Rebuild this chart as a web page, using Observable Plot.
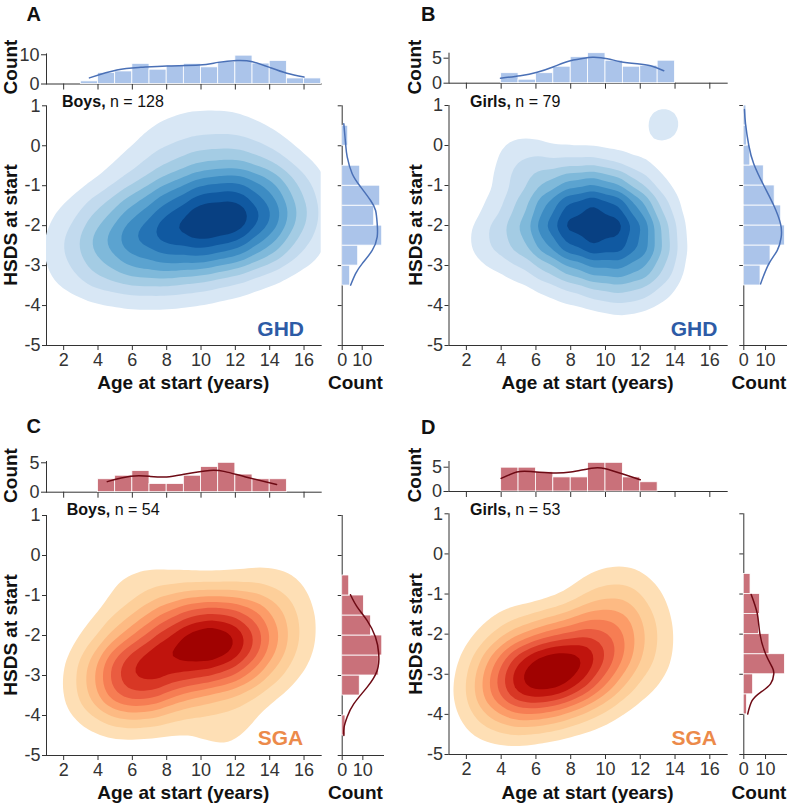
<!DOCTYPE html>
<html><head><meta charset="utf-8">
<script src="https://cdn.jsdelivr.net/npm/d3@7"></script>
<script src="https://cdn.jsdelivr.net/npm/@observablehq/plot@0.6"></script>
<style>
body{margin:0;background:#fff;}
#root{position:relative;width:787px;height:805px;overflow:hidden;background:#fff;}
#root svg{position:absolute;left:0;top:0;background:transparent !important;}
</style></head><body><div id="root"></div>
<script>
// ---------- shared ticks ----------
const ageTicks = [2,4,6,8,10,12,14,16];
const hsdsTicks = [1,0,-1,-2,-3,-4,-5];
const countTicksTopA = [0,10];
const countTicksTop = [0,5];
const countTicksRight = [0,10];
// contour levels as fractions of the peak density (9 filled bands)
const levelFractions = [0.1,0.2,0.3,0.4,0.5,0.6,0.7,0.8,0.9];

// ---------- Panel A : GHD boys ----------
const aAgeBinStart = [3,4,5,6,7,8,9,10,11,12,13,14,15,16];
const aAgeBinCount = [0.9,3.8,4.3,6.9,4.9,6.3,6.9,5.7,7.6,9.7,7.0,7.9,1.9,1.9];
const aAgeKdeX = [3.5,5.1,6.5,8.0,9.9,11.0,12.1,13.0,14.0,15.0,16.0];
const aAgeKdeY = [2.1,4.8,5.7,6.2,6.5,7.4,8.0,7.6,5.7,3.7,2.4];
const aHsdsBinLow = [-3.5,-3,-2.5,-2,-1.5,-1,-0.5,0];
const aHsdsBinCount = [4,8,20,16,19,9,0,3];
const aHsdsKdeY = [0.55,0.05,-0.28,-0.7,-1.03,-1.37,-1.62,-1.95,-2.28,-2.62,-2.95,-3.2,-3.49];
const aHsdsKdeX = [0.8,1.7,2.5,5,9.2,14.2,16.7,17.5,17.5,15,10,6.7,4.2];
const aPtAge    = [3,5,7,9,11,13,15, 3,5,7,9,11,13,15, 8,11,14, 9,12, 8,10.5,13, 6, 1.8,16.5, 8,11];
const aPtHsds   = [-2.15,-1.95,-1.8,-1.6,-1.45,-1.35,-1.3, -2.95,-2.85,-2.7,-2.5,-2.3,-2.2,-2.15, -0.7,-0.6,-0.7, -0.05,0.05, 0.35,0.45,0.35, -0.4, -2.7,-1.6, -3.5,-3.4];
const aPtWeight = [0.8,2,2.5,3,3.5,3,1.5, 0.8,2,2.5,3,3.5,3,1.5, 0.7,0.8,0.6, 0.55,0.55, 0.5,0.4,0.5, 0.45, 0.4,0.35, 0.35,0.35];

// ---------- Panel B : GHD girls ----------
const bAgeBinStart = [4,5,6,7,8,9,10,11,12,13];
const bAgeBinCount = [2.0,0.7,2.0,3.3,5.2,6.0,4.5,3.3,3.5,4.5];
const bAgeKdeX = [3.96,5.1,6.07,7.02,7.98,8.94,9.33,10.1,10.86,11.82,12.59,13.35];
const bAgeKdeY = [1.0,1.5,2.2,3.3,4.5,5.1,5.2,4.9,4.3,3.9,3.5,2.5];
const bHsdsBinLow = [-3.5,-3,-2.5,-2,-1.5,-1,-0.5,0,0.5];
const bHsdsBinCount = [7.7,12.3,18.9,17.2,14.2,9.2,3,1.5,1.2];
const bHsdsKdeY = [0.9,0.54,0,-0.46,-1.0,-1.5,-1.96,-2.29,-2.62,-2.96,-3.46];
const bHsdsKdeX = [0.3,0.8,2.3,4.6,9.2,13.8,16.9,17.2,15.4,11.5,7.7];
const bPtAge = [
  4,5.5,7,8.5,10,11.5,13,
  4,5.5,7,8.5,10,11.5,13,
  4,5.5,7,8.5,10,11.5,13,
  4,5.5,7,8.5,10,11.5,13,
  4,5.5,7,8.5,10,11.5,13,
  4,5.5,7,8.5,10,11.5,13,
  2.7,5,11,13.35];
const bPtHsds = [
  -0.5,-0.5,-0.5,-0.5,-0.5,-0.5,-0.5,
  -1.1,-1.1,-1.1,-1.1,-1.1,-1.1,-1.1,
  -1.7,-1.7,-1.7,-1.7,-1.7,-1.7,-1.7,
  -2.3,-2.3,-2.3,-2.3,-2.3,-2.3,-2.3,
  -2.9,-2.9,-2.9,-2.9,-2.9,-2.9,-2.9,
  -3.5,-3.5,-3.5,-3.5,-3.5,-3.5,-3.5,
  -2.4,-0.05,-4.0,0.55];
const bPtWeight = [
  0.1,0.35,0.2,0.25,0.2,0.05,0.03,
  0.1,0.25,0.45,0.7,0.7,0.45,0.15,
  0.2,0.35,0.85,1.0,1.0,0.85,0.35,
  0.35,0.45,0.85,1.0,1.0,0.85,0.55,
  0.15,0.2,0.4,0.6,0.7,0.65,0.5,
  0,0.05,0.15,0.25,0.35,0.35,0.25,
  0.22,0.2,0.15,0.5];

// ---------- Panel C : SGA boys ----------
const cAgeBinStart = [4,5,6,7,8,9,10,11,12,13,14];
const cAgeBinCount = [2.2,2.8,3.6,1.4,1.4,2.8,4.3,5.0,3.0,2.2,2.2];
const cAgeKdeX = [4.54,5.9,7.0,8.0,9.1,10.5,11.4,12.6,14.4];
const cAgeKdeY = [1.8,2.7,2.7,2.6,3.1,3.7,3.5,2.6,1.3];
const cHsdsBinLow = [-4.5,-4,-3.5,-3,-2.5,-2,-1.5,-1];
const cHsdsBinCount = [1.6,0,8.5,17.7,19.4,14,10.5,3.4];
const cHsdsKdeY = [-0.98,-1.29,-1.63,-2.04,-2.46,-2.88,-3.29,-3.71,-4.04,-4.3,-4.5];
const cHsdsKdeX = [4,7.3,12.1,16.1,17.7,16.9,12.1,5.6,2.4,0.9,0.8];
const cPtAge    = [6,7.2,9,9,10.5,10.5,12,12,13.5,13.5, 4.5,3.3,6,8,6,14.5,15.5,11.5,8.5];
const cPtHsds   = [-3.05,-2.9,-1.9,-2.55,-1.85,-2.55,-1.9,-2.5,-1.75,-2.45, -3.3,-3.3,-2.2,-1.4,-1.0,-0.9,-2.2,-4.45,-3.5];
const cPtWeight = [4.5,1.5,2,2,2,2,2,2,1.2,0.8, 1.2,0.3,0.7,0.7,0.8,0.8,0.5,1.0,0.5];

// ---------- Panel D : SGA girls ----------
const dAgeBinStart = [4,5,6,7,8,9,10,11,12];
const dAgeBinCount = [4.9,4.9,4.0,2.9,2.9,5.9,5.9,2.9,1.9];
const dAgeKdeX = [4.0,4.9,5.7,6.9,8.0,9.2,10.0,11.0,12.0];
const dAgeKdeY = [2.7,4.0,4.1,3.8,4.0,4.8,4.7,3.6,2.4];
const dHsdsBinLow = [-4,-3.5,-3,-2.5,-2,-1.5,-1];
const dHsdsBinCount = [1.5,4.3,18.9,11.8,7.0,7.4,3.1];
const dHsdsKdeY = [-1.01,-1.49,-1.99,-2.49,-2.83,-2.99,-3.24,-3.45,-3.66,-3.99];
const dHsdsKdeX = [3.4,6.2,7.4,10,13.1,13.8,12.3,7.7,3.8,1.8];
const dPtAge    = [4.5,6,7.5,9,10,10.3,11,11.8,12.3,8,5.2,12.3,3.8,6,3.6,9];
const dPtHsds   = [-3.1,-3.0,-2.95,-2.8,-2.1,-1.4,-0.85,-2.3,-2.9,-2.2,-2.0,-1.5,-3.55,-3.6,-3.95,-3.4];
const dPtWeight = [2.2,2.4,2.4,2.2,1.5,0.9,0.45,0.6,0.4,0.8,0.7,0.3,0.9,0.8,0.35,0.5];

// ---------- labels ----------
const panelLetters = ["A","B","C","D"];
const sexLabels = ["Boys,","Girls,","Boys,","Girls,"];
const nLabels = [" n = 128"," n = 79"," n = 54"," n = 53"];
const groupLabels = ["GHD","GHD","SGA","SGA"];
const xTitle = "Age at start (years)";
const yTitle = "HSDS at start";
const countTitle = "Count";

// ---------- layout & style ----------
const W = 787, H = 805;
const FONT = "'Liberation Sans', Arial, Helvetica, sans-serif";
const AX = "#333";
const zip3 = (a,b,c) => a.map((v,i)=>({a:v,b:b[i],c:c[i]}));
const fmt = d => String(d);

const GHD = {bar:"#abc4ea", line:"#4a70b6", text:"#2d5ba6", interp: t => d3.interpolateBlues(0.06 + 0.88*t)};
const SGA = {bar:"#c9717a", line:"#6d0a14", text:"#ec8a4a", interp: t => d3.interpolateOrRd(0.09 + 0.83*t)};

const panels = [
  {main:{x0:46,x1:320.7,y0:105.3,y1:345}, top:{y0:53.4,y1:83.5,max:10.3,ticks:countTicksTopA}, right:{x0:341.7,x1:383,max:20.65},
   ageStart:aAgeBinStart, ageCount:aAgeBinCount, ageKx:aAgeKdeX, ageKy:aAgeKdeY,
   hLow:aHsdsBinLow, hCount:aHsdsBinCount, hKy:aHsdsKdeY, hKx:aHsdsKdeX,
   pa:aPtAge, ph:aPtHsds, pw:aPtWeight, bw:28, col:GHD,
   letter:[26.5,21], sex:[62,107.3], grp:[304,336], count:[16.5,67], ytitle:[16.7,225], xtitle:[183.3,389.3], rtitle:[355.4,389.3]},
  {main:{x0:448.5,x1:726.7,y0:105,y1:345}, top:{y0:52.7,y1:82.7,max:6.0,ticks:countTicksTop}, right:{x0:743.3,x1:787,max:20.1},
   ageStart:bAgeBinStart, ageCount:bAgeBinCount, ageKx:bAgeKdeX, ageKy:bAgeKdeY,
   hLow:bHsdsBinLow, hCount:bHsdsBinCount, hKy:bHsdsKdeY, hKx:bHsdsKdeX,
   pa:bPtAge, ph:bPtHsds, pw:bPtWeight, bw:18, col:GHD,
   letter:[421,21], sex:[470,107.3], grp:[717.3,336], count:[420.5,67], ytitle:[421.7,225], xtitle:[587.6,389.3], rtitle:[759,389.3]},
  {main:{x0:46,x1:320.7,y0:515,y1:755}, top:{y0:461,y1:491.7,max:5.22,ticks:countTicksTop}, right:{x0:341.7,x1:383,max:20},
   ageStart:cAgeBinStart, ageCount:cAgeBinCount, ageKx:cAgeKdeX, ageKy:cAgeKdeY,
   hLow:cHsdsBinLow, hCount:cHsdsBinCount, hKy:cHsdsKdeY, hKx:cHsdsKdeX,
   pa:cPtAge, ph:cPtHsds, pw:cPtWeight, bw:28, col:SGA,
   letter:[26.5,433], sex:[66.7,515], grp:[303.3,745], count:[16.5,475.5], ytitle:[16.7,635], xtitle:[183.3,799.3], rtitle:[355.4,799.3]},
  {main:{x0:448.5,x1:726.7,y0:513.3,y1:754}, top:{y0:461,y1:491,max:6.17,ticks:countTicksTop}, right:{x0:743.3,x1:787,max:20.1},
   ageStart:dAgeBinStart, ageCount:dAgeBinCount, ageKx:dAgeKdeX, ageKy:dAgeKdeY,
   hLow:dHsdsBinLow, hCount:dHsdsBinCount, hKy:dHsdsKdeY, hKx:dHsdsKdeX,
   pa:dPtAge, ph:dPtHsds, pw:dPtWeight, bw:27, col:SGA,
   letter:[421,434], sex:[470,515], grp:[717,745], count:[420.5,475], ytitle:[421.7,634], xtitle:[587.6,799.3], rtitle:[759,799.3]}
];

const baseStyle = {background:"transparent", overflow:"visible", fontFamily:FONT, fontSize:"18px", color:AX};
const root = document.getElementById("root");
function frame(x0,x1,y0,y1){ return {width:W, height:H, marginLeft:x0, marginRight:W-x1, marginTop:y0, marginBottom:H-y1, style:baseStyle}; }

function densityChart(p, pts, thresholds, color) {
  return Plot.plot({
    ...frame(p.main.x0,p.main.x1,p.main.y0,p.main.y1),
    x:{domain:[1,17], ticks:ageTicks, tickSize:5, tickPadding:3, tickFormat:fmt, label:null, line:true},
    y:{domain:[-5,1], ticks:hsdsTicks, tickSize:4, tickPadding:2, tickFormat:fmt, label:null, line:true},
    color,
    marks:[
      Plot.density(pts, {x:"a", y:"b", weight:"c", fill:"density", bandwidth:p.bw, thresholds, clip:true})
    ]
  });
}

for (const p of panels) {
  const pts = zip3(p.pa, p.ph, p.pw);
  // probe the peak density with a fine set of levels, then draw 9 bands at fixed fractions of it
  let chart = null;
  try {
    const probe = densityChart(p, pts, 400, {type:"linear"});
    const dom = probe.scale("color").domain;
    const peak = Math.max(...dom) * 400 / 399;
    const T = Float64Array.from(levelFractions, f => f * peak);
    chart = densityChart(p, pts, T, {type:"ordinal", range:d3.quantize(p.col.interp, levelFractions.length)});
    if (chart.scale("color").domain.length !== levelFractions.length) chart = null;
  } catch (e) { chart = null; }
  if (!chart) {
    const c0 = densityChart(p, pts, 10, {type:"ordinal", range:d3.quantize(p.col.interp, 12)});
    const m = c0.scale("color").domain.length;
    chart = densityChart(p, pts, 10, {type:"ordinal", range:d3.quantize(p.col.interp, m)});
  }
  root.appendChild(chart);

  // top histogram (age)
  const tb = p.ageStart.map((s,i)=>({x1:s, x2:s+1, c:p.ageCount[i]}));
  const tk = p.ageKx.map((x,i)=>({x, y:p.ageKy[i]}));
  root.appendChild(Plot.plot({
    ...frame(p.main.x0,p.main.x1,p.top.y0,p.top.y1),
    x:{domain:[1,17], ticks:ageTicks, tickSize:6, tickPadding:2, tickFormat:()=>"", label:null, line:true},
    y:{domain:[0,p.top.max], ticks:p.top.ticks, tickSize:5, tickPadding:2, tickFormat:fmt, label:null, line:true},
    marks:[
      Plot.rect(tb, {x1:"x1", x2:"x2", y1:()=>0, y2:"c", fill:p.col.bar, stroke:"white", strokeWidth:0.8}),
      Plot.line(tk, {x:"x", y:"y", stroke:p.col.line, strokeWidth:1.5, curve:"natural"})
    ]
  }));
  // right histogram (HSDS)
  const rb = p.hLow.map((s,i)=>({y1:s, y2:s+0.5, c:p.hCount[i]}));
  const rk = p.hKy.map((y,i)=>({y, x:p.hKx[i]}));
  root.appendChild(Plot.plot({
    ...frame(p.right.x0,p.right.x1,p.main.y0,p.main.y1),
    x:{domain:[0,p.right.max], ticks:countTicksRight, tickSize:5, tickPadding:3, tickFormat:fmt, label:null, line:true},
    y:{domain:[-5,1], ticks:hsdsTicks, tickSize:4, tickPadding:2, tickFormat:()=>"", label:null, line:true},
    marks:[
      Plot.rect(rb, {y1:"y1", y2:"y2", x1:()=>0, x2:"c", fill:p.col.bar, stroke:"white", strokeWidth:0.8}),
      Plot.line(rk, {x:"x", y:"y", stroke:p.col.line, strokeWidth:1.5, curve:"natural"})
    ]
  }));
}

// ---------- text overlay ----------
const svg = d3.select(root).append("svg").attr("width",W).attr("height",H)
  .style("font-family",FONT).style("fill","#111");
panels.forEach((p,i)=>{
  svg.append("text").attr("x",p.letter[0]).attr("y",p.letter[1]).attr("font-size",20).attr("font-weight","bold").text(panelLetters[i]);
  const t = svg.append("text").attr("x",p.sex[0]).attr("y",p.sex[1]).attr("font-size",16);
  t.append("tspan").attr("font-weight","bold").text(sexLabels[i]);
  t.append("tspan").text(nLabels[i]);
  svg.append("text").attr("x",p.grp[0]).attr("y",p.grp[1]).attr("font-size",21).attr("font-weight","bold")
    .attr("text-anchor","end").style("fill",p.col.text).text(groupLabels[i]);
  svg.append("text").attr("transform",`translate(${p.count[0]},${p.count[1]}) rotate(-90)`).attr("font-size",19)
    .attr("font-weight","bold").attr("text-anchor","middle").text(countTitle);
  svg.append("text").attr("transform",`translate(${p.ytitle[0]},${p.ytitle[1]}) rotate(-90)`).attr("font-size",19)
    .attr("font-weight","bold").attr("text-anchor","middle").text(yTitle);
  svg.append("text").attr("x",p.xtitle[0]).attr("y",p.xtitle[1]).attr("font-size",19).attr("font-weight","bold")
    .attr("text-anchor","middle").text(xTitle);
  svg.append("text").attr("x",p.rtitle[0]).attr("y",p.rtitle[1]).attr("font-size",19).attr("font-weight","bold")
    .attr("text-anchor","middle").text(countTitle);
});
</script></body></html>
